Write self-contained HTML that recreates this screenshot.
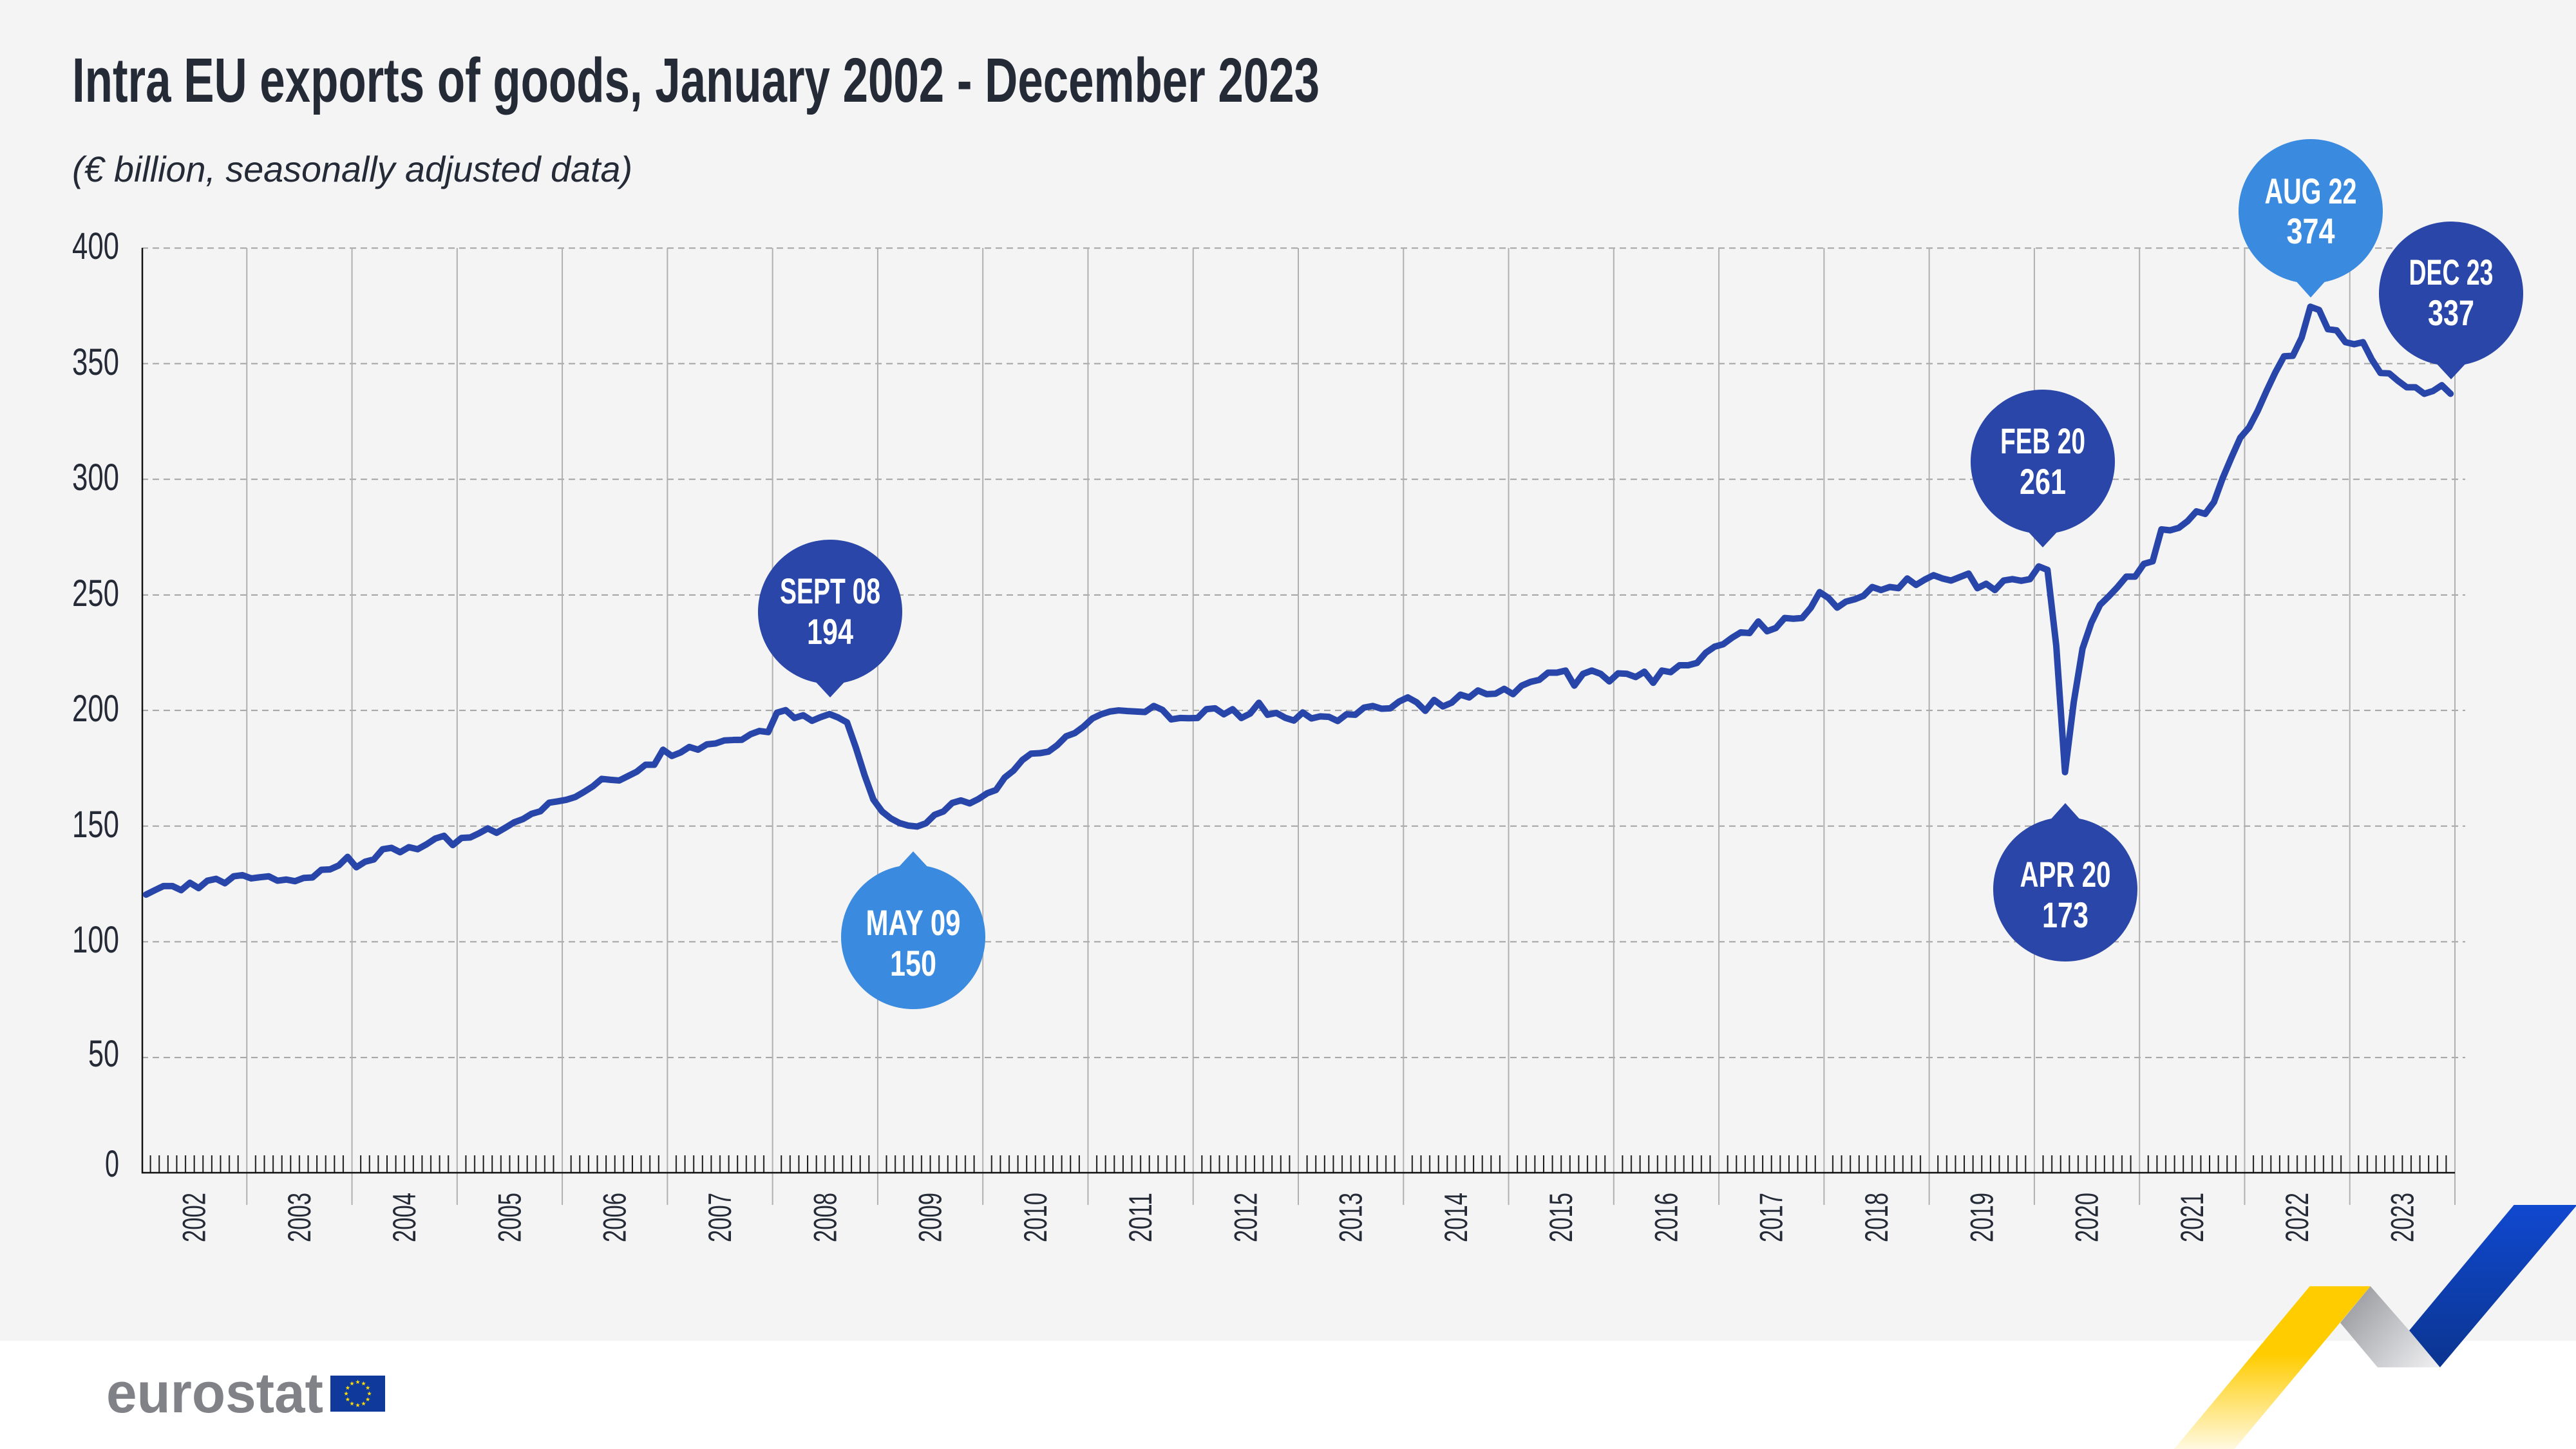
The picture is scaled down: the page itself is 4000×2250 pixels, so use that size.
<!DOCTYPE html>
<html><head><meta charset="utf-8"><style>
html,body{margin:0;padding:0;background:#fff;}
svg{display:block;}
</style></head><body>
<svg width="4000" height="2250" viewBox="0 0 4000 2250" xmlns="http://www.w3.org/2000/svg" font-family="'Liberation Sans', sans-serif">
<defs>
<pattern id="ticks" x="220" y="1794" width="163.2727" height="27" patternUnits="userSpaceOnUse">
<path d="M13.606 0v27M27.212 0v27M40.818 0v27M54.424 0v27M68.030 0v27M81.636 0v27M95.242 0v27M108.848 0v27M122.455 0v27M136.061 0v27M149.667 0v27" stroke="#1a1a1a" stroke-width="2"/>
</pattern>
<linearGradient id="gy" x1="0" y1="1997" x2="0" y2="2250" gradientUnits="userSpaceOnUse">
<stop offset="0" stop-color="#ffcc00"/><stop offset="0.42" stop-color="#ffcc00"/><stop offset="1" stop-color="#fff9e0"/>
</linearGradient>
<linearGradient id="gb" x1="0" y1="1871" x2="0" y2="2123" gradientUnits="userSpaceOnUse">
<stop offset="0" stop-color="#1048cf"/><stop offset="1" stop-color="#0b3590"/>
</linearGradient>
<linearGradient id="gg" x1="3650" y1="2010" x2="3780" y2="2123" gradientUnits="userSpaceOnUse">
<stop offset="0" stop-color="#9a9ca1"/><stop offset="1" stop-color="#eeeef0"/>
</linearGradient>
<path id="star" d="M0,-3.6 L0.85,-1.17 3.42,-1.11 1.37,0.44 2.12,2.91 0,1.44 -2.12,2.91 -1.37,0.44 -3.42,-1.11 -0.85,-1.17Z" fill="#ffdd00"/>
</defs>

<!-- backgrounds -->
<rect x="0" y="0" width="4000" height="2082" fill="#f4f4f4"/>
<rect x="0" y="2082" width="4000" height="168" fill="#ffffff"/>

<!-- title -->
<text x="112" y="158" font-size="97" font-weight="bold" fill="#252a37" textLength="1937" lengthAdjust="spacingAndGlyphs">Intra EU exports of goods, January 2002 - December 2023</text>
<text x="112" y="282" font-size="56" font-style="italic" fill="#252a37" textLength="870" lengthAdjust="spacingAndGlyphs">(€ billion, seasonally adjusted data)</text>

<!-- gridlines -->
<g stroke="#a3a3a3" stroke-width="2" stroke-dasharray="10 7">
<line x1="220" y1="385.3" x2="3828" y2="385.3"/>
<line x1="220" y1="564.6" x2="3828" y2="564.6"/>
<line x1="220" y1="744.3" x2="3828" y2="744.3"/>
<line x1="220" y1="923.9" x2="3828" y2="923.9"/>
<line x1="220" y1="1103.1" x2="3828" y2="1103.1"/>
<line x1="220" y1="1282.8" x2="3828" y2="1282.8"/>
<line x1="220" y1="1462.4" x2="3828" y2="1462.4"/>
<line x1="220" y1="1642.1" x2="3828" y2="1642.1"/>
</g>

<!-- year vertical lines -->
<g stroke="#b0b0b0" stroke-width="2">
<line x1="383.27" y1="385" x2="383.27" y2="1871"/>
<line x1="546.55" y1="385" x2="546.55" y2="1871"/>
<line x1="709.82" y1="385" x2="709.82" y2="1871"/>
<line x1="873.09" y1="385" x2="873.09" y2="1871"/>
<line x1="1036.36" y1="385" x2="1036.36" y2="1871"/>
<line x1="1199.64" y1="385" x2="1199.64" y2="1871"/>
<line x1="1362.91" y1="385" x2="1362.91" y2="1871"/>
<line x1="1526.18" y1="385" x2="1526.18" y2="1871"/>
<line x1="1689.45" y1="385" x2="1689.45" y2="1871"/>
<line x1="1852.73" y1="385" x2="1852.73" y2="1871"/>
<line x1="2016.0" y1="385" x2="2016.0" y2="1871"/>
<line x1="2179.27" y1="385" x2="2179.27" y2="1871"/>
<line x1="2342.55" y1="385" x2="2342.55" y2="1871"/>
<line x1="2505.82" y1="385" x2="2505.82" y2="1871"/>
<line x1="2669.09" y1="385" x2="2669.09" y2="1871"/>
<line x1="2832.36" y1="385" x2="2832.36" y2="1871"/>
<line x1="2995.64" y1="385" x2="2995.64" y2="1871"/>
<line x1="3158.91" y1="385" x2="3158.91" y2="1871"/>
<line x1="3322.18" y1="385" x2="3322.18" y2="1871"/>
<line x1="3485.45" y1="385" x2="3485.45" y2="1871"/>
<line x1="3648.73" y1="385" x2="3648.73" y2="1871"/>
<line x1="3812.0" y1="385" x2="3812.0" y2="1871"/>
</g>

<!-- month ticks -->
<rect x="220" y="1794" width="3592" height="27" fill="url(#ticks)"/>

<!-- axes -->
<line x1="221" y1="385" x2="221" y2="1822" stroke="#111" stroke-width="2.5"/>
<line x1="220" y1="1821" x2="3812" y2="1821" stroke="#111" stroke-width="2.5"/>

<!-- y labels -->
<g font-size="58" fill="#252a37" text-anchor="end">
<text x="185" y="402" textLength="73" lengthAdjust="spacingAndGlyphs">400</text>
<text x="185" y="582" textLength="73" lengthAdjust="spacingAndGlyphs">350</text>
<text x="185" y="761" textLength="73" lengthAdjust="spacingAndGlyphs">300</text>
<text x="185" y="941" textLength="73" lengthAdjust="spacingAndGlyphs">250</text>
<text x="185" y="1120" textLength="73" lengthAdjust="spacingAndGlyphs">200</text>
<text x="185" y="1300" textLength="73" lengthAdjust="spacingAndGlyphs">150</text>
<text x="185" y="1479" textLength="73" lengthAdjust="spacingAndGlyphs">100</text>
<text x="185" y="1656" textLength="48" lengthAdjust="spacingAndGlyphs">50</text>
<text x="185" y="1827" textLength="22" lengthAdjust="spacingAndGlyphs">0</text>
</g>

<!-- x labels -->
<g font-size="50" fill="#252a37">
<text transform="translate(318.6,1929) rotate(-90)" textLength="77" lengthAdjust="spacingAndGlyphs">2002</text>
<text transform="translate(481.9,1929) rotate(-90)" textLength="77" lengthAdjust="spacingAndGlyphs">2003</text>
<text transform="translate(645.2,1929) rotate(-90)" textLength="77" lengthAdjust="spacingAndGlyphs">2004</text>
<text transform="translate(808.5,1929) rotate(-90)" textLength="77" lengthAdjust="spacingAndGlyphs">2005</text>
<text transform="translate(971.7,1929) rotate(-90)" textLength="77" lengthAdjust="spacingAndGlyphs">2006</text>
<text transform="translate(1135,1929) rotate(-90)" textLength="77" lengthAdjust="spacingAndGlyphs">2007</text>
<text transform="translate(1298.3,1929) rotate(-90)" textLength="77" lengthAdjust="spacingAndGlyphs">2008</text>
<text transform="translate(1461.5,1929) rotate(-90)" textLength="77" lengthAdjust="spacingAndGlyphs">2009</text>
<text transform="translate(1624.8,1929) rotate(-90)" textLength="77" lengthAdjust="spacingAndGlyphs">2010</text>
<text transform="translate(1788.1,1929) rotate(-90)" textLength="77" lengthAdjust="spacingAndGlyphs">2011</text>
<text transform="translate(1951.4,1929) rotate(-90)" textLength="77" lengthAdjust="spacingAndGlyphs">2012</text>
<text transform="translate(2114.6,1929) rotate(-90)" textLength="77" lengthAdjust="spacingAndGlyphs">2013</text>
<text transform="translate(2277.9,1929) rotate(-90)" textLength="77" lengthAdjust="spacingAndGlyphs">2014</text>
<text transform="translate(2441.2,1929) rotate(-90)" textLength="77" lengthAdjust="spacingAndGlyphs">2015</text>
<text transform="translate(2604.5,1929) rotate(-90)" textLength="77" lengthAdjust="spacingAndGlyphs">2016</text>
<text transform="translate(2767.7,1929) rotate(-90)" textLength="77" lengthAdjust="spacingAndGlyphs">2017</text>
<text transform="translate(2931,1929) rotate(-90)" textLength="77" lengthAdjust="spacingAndGlyphs">2018</text>
<text transform="translate(3094.3,1929) rotate(-90)" textLength="77" lengthAdjust="spacingAndGlyphs">2019</text>
<text transform="translate(3257.5,1929) rotate(-90)" textLength="77" lengthAdjust="spacingAndGlyphs">2020</text>
<text transform="translate(3420.8,1929) rotate(-90)" textLength="77" lengthAdjust="spacingAndGlyphs">2021</text>
<text transform="translate(3584.1,1929) rotate(-90)" textLength="77" lengthAdjust="spacingAndGlyphs">2022</text>
<text transform="translate(3747.4,1929) rotate(-90)" textLength="77" lengthAdjust="spacingAndGlyphs">2023</text>
</g>

<!-- data line -->
<g transform="matrix(13.6061 0 0 -3.5937 226.8 1821.8)">
<polyline fill="none" stroke="#2845a9" stroke-width="10" stroke-linejoin="round" stroke-linecap="round" vector-effect="non-scaling-stroke" points="0,120.4 1,122.3 2,124.1 3,124.1 4,122.3 5,125.5 6,123.2 7,126.4 8,127.2 9,125.3 10,128.3 11,128.8 12,127.4 13,127.9 14,128.3 15,126.4 16,126.9 17,126.2 18,127.6 19,127.8 20,131.1 21,131.3 22,133 23,136.7 24,132.2 25,134.6 26,135.6 27,140 28,140.6 29,138.7 30,140.9 31,140 32,142.1 33,144.6 34,145.8 35,141.8 36,144.9 37,145.1 38,146.9 39,149 40,147.1 41,149.3 42,151.6 43,153 44,155.3 45,156.4 46,160.1 47,160.7 48,161.4 49,162.6 50,164.8 51,167.2 52,170.4 53,170 54,169.7 55,171.6 56,173.5 57,176.5 58,176.5 59,183 60,180.3 61,181.8 62,184.2 63,183 64,185.3 65,185.7 66,187 67,187.2 68,187.3 69,189.7 70,191.1 71,190.6 72,199 73,200.1 74,196.7 75,197.9 76,195.5 77,197.1 78,198.4 79,196.9 80,194.8 81,184 82,172 83,161.5 84,156.3 85,153.3 86,151.3 87,150.2 88,149.8 89,151.2 90,154.9 91,156.3 92,160 93,161.1 94,159.8 95,161.7 96,164.2 97,165.6 98,171 99,174 100,178.5 101,181.3 102,181.5 103,182.2 104,185 105,188.8 106,190.2 107,193 108,196.5 109,198.3 110,199.5 111,200 112,199.7 113,199.5 114,199.3 115,201.9 116,200.2 117,196.1 118,196.7 119,196.6 120,196.7 121,200.5 122,200.9 123,198.3 124,200.5 125,196.7 126,198.6 127,203.3 128,198.1 129,198.9 130,196.8 131,195.6 132,199.1 133,196.5 134,197.4 135,197.2 136,195.4 137,198.3 138,198.1 139,201.2 140,201.9 141,200.7 142,200.9 143,203.8 144,205.6 145,203.5 146,199.8 147,204.5 148,201.7 149,203.3 150,206.8 151,205.6 152,208.6 153,207 154,207.2 155,209.3 156,207 157,210.7 158,212.3 159,213.2 160,216.3 161,216.3 162,217.2 163,210.7 164,215.8 165,217.2 166,215.8 167,212.5 168,216 169,215.8 170,214.4 171,216.7 172,211.9 173,217.2 174,216.5 175,219.5 176,219.5 177,220.5 178,224.9 179,227.5 180,228.6 181,231.4 182,233.7 183,233.4 184,238.4 185,234.2 186,235.6 187,239.9 188,239.6 189,239.9 190,244.4 191,251.1 192,248.6 193,244.4 194,247 195,248 196,249.5 197,253.3 198,252 199,253.3 200,252.8 201,257 202,254.2 203,256.5 204,258.4 205,257 206,256.1 207,257.6 208,259.1 209,252.8 210,254.7 211,252 212,256.1 213,256.7 214,256 215,256.7 216,262.2 217,260.7 218,228 219,173.3 220,203.6 221,226.7 222,237.8 223,245.6 224,249.3 225,253.3 226,257.8 227,257.8 228,263.3 229,264.4 230,278.2 231,277.8 232,278.9 233,281.8 234,286 235,284.9 236,290 237,300.4 238,309.3 239,317.8 240,322.2 241,329.5 242,338 243,346 244,353 245,353.2 246,361 247,374.4 248,373 249,364.7 250,364.2 251,359.1 252,358.2 253,359.1 254,351.7 255,345.8 256,345.6 257,342.4 258,339.6 259,339.6 260,336.8 261,338 262,340.5 263,336.8"/>
</g>

<!-- callouts -->
<g font-size="56" font-weight="bold" fill="#ffffff" text-anchor="middle">
<!-- SEPT 08 -->
<circle cx="1289" cy="950" r="112" fill="#2946a8"/>
<polygon points="1263,1055 1315,1055 1289,1083" fill="#2946a8"/>
<text x="1289" y="937" textLength="156" lengthAdjust="spacingAndGlyphs">SEPT 08</text>
<text x="1289" y="1000" textLength="72" lengthAdjust="spacingAndGlyphs">194</text>
<!-- MAY 09 -->
<circle cx="1418" cy="1455" r="112" fill="#3a8ae0"/>
<polygon points="1392,1350 1444,1350 1418,1322" fill="#3a8ae0"/>
<text x="1418" y="1452" textLength="147" lengthAdjust="spacingAndGlyphs">MAY 09</text>
<text x="1418" y="1515" textLength="72" lengthAdjust="spacingAndGlyphs">150</text>
<!-- FEB 20 -->
<circle cx="3172" cy="717" r="112" fill="#2946a8"/>
<polygon points="3146,822 3198,822 3172,850" fill="#2946a8"/>
<text x="3172" y="704" textLength="132" lengthAdjust="spacingAndGlyphs">FEB 20</text>
<text x="3172" y="767" textLength="72" lengthAdjust="spacingAndGlyphs">261</text>
<!-- APR 20 -->
<circle cx="3207" cy="1381" r="112" fill="#2946a8"/>
<polygon points="3181,1276 3233,1276 3207,1247" fill="#2946a8"/>
<text x="3207" y="1377" textLength="141" lengthAdjust="spacingAndGlyphs">APR 20</text>
<text x="3207" y="1440" textLength="72" lengthAdjust="spacingAndGlyphs">173</text>
<!-- AUG 22 -->
<circle cx="3588" cy="328" r="112" fill="#3a8ae0"/>
<polygon points="3562,433 3614,433 3588,462" fill="#3a8ae0"/>
<text x="3588" y="316" textLength="143" lengthAdjust="spacingAndGlyphs">AUG 22</text>
<text x="3588" y="378" textLength="75" lengthAdjust="spacingAndGlyphs">374</text>
<!-- DEC 23 -->
<circle cx="3806" cy="456" r="112" fill="#2946a8"/>
<polygon points="3780,561 3832,561 3806,589" fill="#2946a8"/>
<text x="3806" y="442" textLength="131" lengthAdjust="spacingAndGlyphs">DEC 23</text>
<text x="3806" y="505" textLength="72" lengthAdjust="spacingAndGlyphs">337</text>
</g>

<!-- ribbon logo -->
<polygon points="3903.6,1871 4000,1871 4000,1873 3788.8,2123.3 3741,2066" fill="url(#gb)"/>
<polygon points="3680.8,1997.3 3741,2066 3788.8,2123.3 3692,2123.3 3633.9,2054" fill="url(#gg)"/>
<polygon points="3586.6,1997.3 3680.8,1997.3 3469.6,2250 3375.9,2250" fill="url(#gy)"/>

<!-- eurostat logo -->
<text x="165" y="2193" font-size="88" font-weight="bold" fill="#808288" textLength="337" lengthAdjust="spacingAndGlyphs">eurostat</text>
<rect x="513" y="2136" width="85" height="56" fill="#0f3a9c"/>
<g transform="translate(555.5,2164)">
<use href="#star" x="0" y="-18"/>
<use href="#star" x="9" y="-15.6"/>
<use href="#star" x="15.6" y="-9"/>
<use href="#star" x="18" y="0"/>
<use href="#star" x="15.6" y="9"/>
<use href="#star" x="9" y="15.6"/>
<use href="#star" x="0" y="18"/>
<use href="#star" x="-9" y="15.6"/>
<use href="#star" x="-15.6" y="9"/>
<use href="#star" x="-18" y="0"/>
<use href="#star" x="-15.6" y="-9"/>
<use href="#star" x="-9" y="-15.6"/>
</g>
</svg>
</body></html>
